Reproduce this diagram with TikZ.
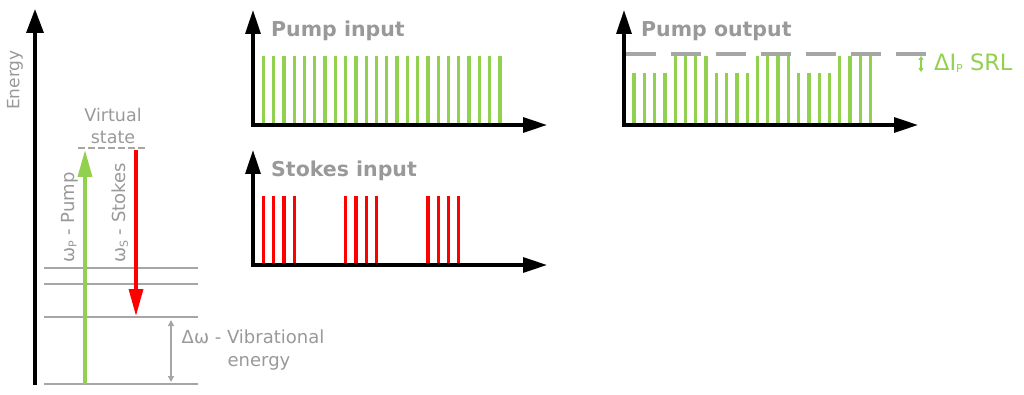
\documentclass[tikz,border=0pt]{standalone}
\usepackage{fontspec}
\setmainfont{DejaVu Sans}
\usetikzlibrary{arrows.meta}
\definecolor{pgreen}{HTML}{92D050}
\definecolor{sred}{HTML}{FF0000}
\definecolor{lgray}{HTML}{A6A6A6}
\definecolor{tgray}{HTML}{999999}
\newcommand{\subsc}[1]{\raisebox{-2pt}{\fontsize{11}{11}\selectfont #1}}
\begin{document}
\begin{tikzpicture}[x=1pt,y=-1pt,
  axisline/.style={line width=3.3pt, black, {Triangle[length=24pt,width=15pt]}-{Triangle[length=24pt,width=15pt]}},
  level/.style={line width=2.8pt, lgray},
  pbar/.style={line width=3.3pt, pgreen},
  sbar/.style={line width=3.3pt, sred},
  ttl/.style={font=\bfseries\fontsize{20.5}{20.5}\selectfont, text=tgray, inner sep=0pt, anchor=base west},
  lbl/.style={font=\fontsize{18}{23}\selectfont, text=tgray, inner sep=0pt, align=center},
  dblarrow/.style={line width=1.5pt, {Triangle[length=6pt,width=6pt]}-{Triangle[length=6pt,width=6pt]}}
]
\useasboundingbox (0,0) rectangle (1024,395);

% ---------- Energy diagram ----------
\coordinate (eb) at (35,385);
\coordinate (et) at (35,9);
\draw[line width=3.3pt, -{Triangle[length=24pt,width=17pt]}] (eb) -- (et);
\node[lbl, rotate=90, font=\fontsize{17}{17}\selectfont] (energy) at (15,80) {Energy};

% levels
\coordinate (l1a) at (44,268); \coordinate (l1b) at (198,268);
\coordinate (l2a) at (44,284); \coordinate (l2b) at (198,284);
\coordinate (l3a) at (44,317); \coordinate (l3b) at (198,317);
\coordinate (l4a) at (44,384); \coordinate (l4b) at (198,384);
\draw[level] (l1a) -- (l1b);
\draw[level] (l2a) -- (l2b);
\draw[level] (l3a) -- (l3b);
\draw[level] (l4a) -- (l4b);

% virtual state
\coordinate (va) at (78,148); \coordinate (vb) at (147,148);
\draw[level, dash pattern=on 7pt off 3pt] (va) -- (vb);
\node[lbl, font=\fontsize{17.5}{22}\selectfont] (virt) at (113,126) {Virtual\\state};

% pump & stokes arrows
\coordinate (pa) at (85,384); \coordinate (pb) at (85,150);
\draw[line width=3.3pt, pgreen, -{Triangle[length=27pt,width=14pt]}] (pa) -- (pb);
\coordinate (sa) at (136,150); \coordinate (sb) at (136,316);
\draw[line width=3.3pt, sred, -{Triangle[length=27pt,width=14pt]}] (sa) -- (sb);

\node[lbl, rotate=90, anchor=west] (wp) at (70,263) {ω\subsc{P} - Pump};
\node[lbl, rotate=90, anchor=west] (ws) at (120,263) {ω\subsc{S} - Stokes};

% vibrational energy
\coordinate (da) at (171,320); \coordinate (db) at (171,382);
\draw[dblarrow, lgray, line width=1.3pt] (da) -- (db);
\node[lbl] (vib) at (253,350) {Δω - Vibrational\\\hspace*{12pt}energy};

% ---------- Pump input ----------
\foreach \k in {0,...,23} {
  \draw[pbar] (263.3+10.29*\k,125) -- (263.3+10.29*\k,56);
}
\coordinate (piy) at (253,10); \coordinate (pio) at (253,125); \coordinate (pix) at (547,125);
\draw[axisline] (piy) -- (pio) -- (pix);
\node[ttl] (pit) at (271,37) {Pump input};

% ---------- Stokes input ----------
\foreach \k in {0,1,2,3,8,9,10,11,16,17,18,19} {
  \draw[sbar] (263.3+10.29*\k,265) -- (263.3+10.29*\k,196);
}
\coordinate (siy) at (253,150); \coordinate (sio) at (253,265); \coordinate (six) at (547,265);
\draw[axisline] (siy) -- (sio) -- (six);
\node[ttl] (sit) at (271,177) {Stokes input};

% ---------- Pump output ----------
\foreach \k in {0,1,2,3,8,9,10,11,16,17,18,19} {
  \draw[pbar] (634+10.29*\k,125) -- (634+10.29*\k,73);
}
\foreach \k in {4,5,6,7,12,13,14,15,20,21,22,23} {
  \draw[pbar] (634+10.29*\k,125) -- (634+10.29*\k,56);
}
\coordinate (ra) at (626,54); \coordinate (rb) at (928,54);
\draw[lgray, line width=3.3pt, dash pattern=on 30pt off 15pt] (ra) -- (rb);
\coordinate (poy) at (624,10); \coordinate (poo) at (624,125); \coordinate (pox) at (918,125);
\draw[axisline] (poy) -- (poo) -- (pox);
\node[ttl] (pot) at (641,37) {Pump output};

\coordinate (ia) at (921,56); \coordinate (ib) at (921,72);
\draw[pgreen, line width=1.3pt, {Triangle[length=4pt,width=5pt]}-{Triangle[length=4pt,width=5pt]}] (ia) -- (ib);
\node[lbl, text=pgreen, font=\fontsize{22.5}{22.5}\selectfont, anchor=west] (srl) at (934,63) {ΔI\subsc{P} SRL};
\end{tikzpicture}
\end{document}
